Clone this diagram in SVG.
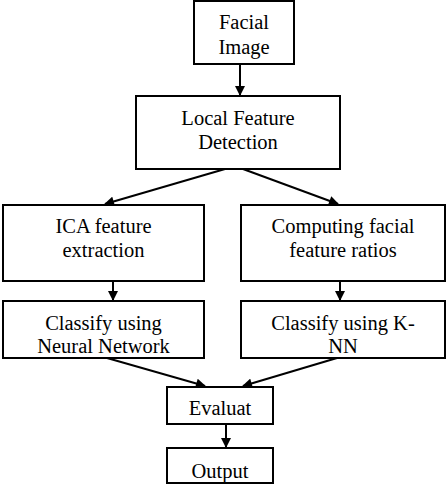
<svg xmlns="http://www.w3.org/2000/svg" width="446" height="485" viewBox="0 0 446 485">
<style>
.box{fill:#fff;stroke:#000;stroke-width:2}
.c{stroke:#000;stroke-width:2;fill:none}
</style>
<defs>
<marker id="ah" viewBox="0 0 10 10" refX="9" refY="5" markerWidth="12" markerHeight="10" orient="auto" markerUnits="userSpaceOnUse">
<path d="M0,0 L10,5 L0,10 z" fill="#000"/>
</marker>
</defs>
<g id="connectors">
<line class="c" x1="240" y1="64" x2="240" y2="95" stroke-width="3" marker-end="url(#ah)"/>
<line class="c" x1="225" y1="169" x2="105" y2="204" marker-end="url(#ah)"/>
<line class="c" x1="243" y1="169" x2="338" y2="204" marker-end="url(#ah)"/>
<line class="c" x1="113" y1="281" x2="113" y2="300" marker-end="url(#ah)"/>
<line class="c" x1="340" y1="281" x2="340" y2="300" marker-end="url(#ah)"/>
<line class="c" x1="107" y1="358" x2="205" y2="386" marker-end="url(#ah)"/>
<line class="c" x1="337" y1="358" x2="243" y2="386" marker-end="url(#ah)"/>
<line class="c" x1="226" y1="424" x2="226" y2="447" stroke-width="3" marker-end="url(#ah)"/>
</g>
<g font-family="Liberation Serif" font-size="20.5" text-anchor="middle" fill="#000">
<g id="facial-image">
<rect class="box" x="194" y="1" width="100" height="63"/>
<text x="244" y="29">Facial</text>
<text x="244" y="54">Image</text>
</g>
<g id="local-feature">
<rect class="box" x="136" y="96" width="204" height="73"/>
<text x="238" y="125">Local Feature</text>
<text x="238" y="149">Detection</text>
</g>
<g id="ica">
<rect class="box" x="3" y="205" width="201" height="76"/>
<text x="103.5" y="233">ICA feature</text>
<text x="103.5" y="257">extraction</text>
</g>
<g id="ratios">
<rect class="box" x="241" y="205" width="204" height="76"/>
<text x="343" y="233">Computing facial</text>
<text x="343" y="257">feature ratios</text>
</g>
<g id="nn">
<rect class="box" x="3" y="301" width="201" height="57"/>
<text x="103.5" y="330">Classify using</text>
<text x="103.5" y="353">Neural Network</text>
</g>
<g id="knn">
<rect class="box" x="241" y="301" width="204" height="57"/>
<text x="343" y="330">Classify using K-</text>
<text x="343" y="353">NN</text>
</g>
<g id="evaluat">
<rect class="box" x="167" y="387" width="106" height="37"/>
<text x="220" y="415">Evaluat</text>
</g>
<g id="output">
<rect class="box" x="167" y="448" width="106" height="35"/>
<text x="220" y="478">Output</text>
</g>
</g>
</svg>
